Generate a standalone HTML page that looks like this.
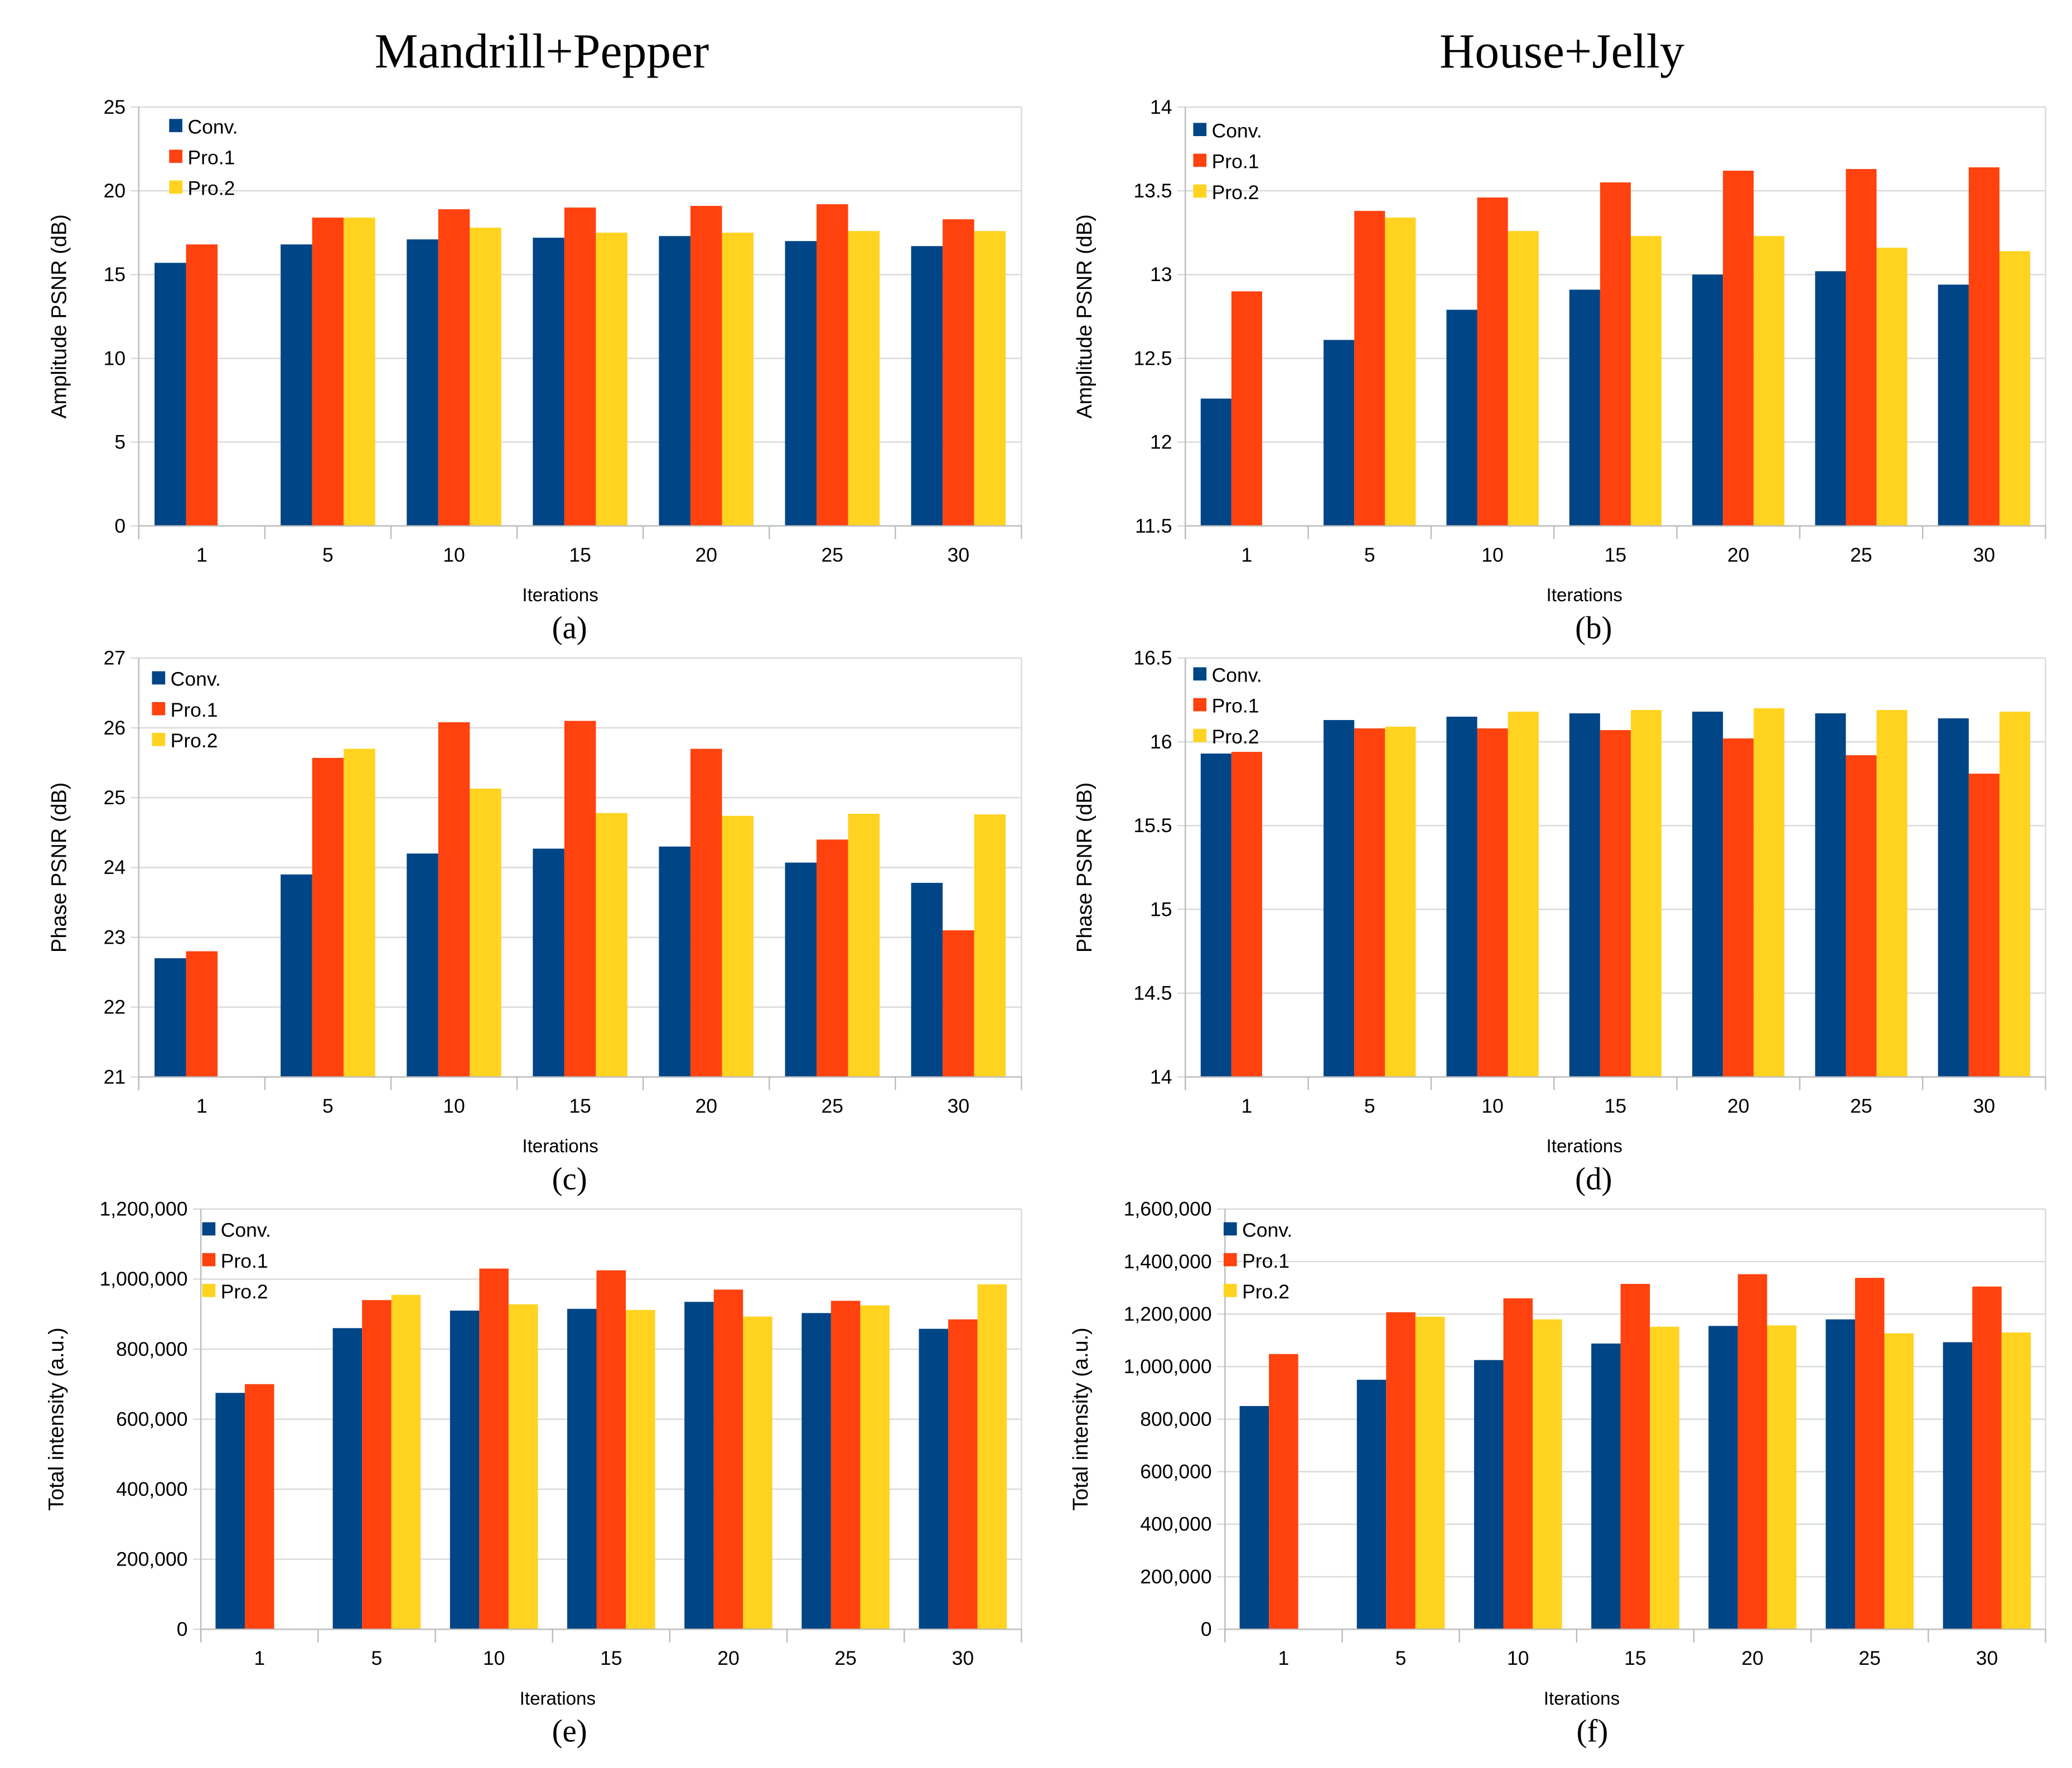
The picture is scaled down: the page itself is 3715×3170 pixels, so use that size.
<!DOCTYPE html>
<html><head><meta charset="utf-8">
<style>
html,body{margin:0;padding:0;background:#fff;}
svg{display:block;}
text{font-family:"Liberation Sans",sans-serif;fill:#000;}
.serif{font-family:"Liberation Serif",serif;}
</style></head>
<body>
<svg id="fig" width="3715" height="3170" viewBox="0 0 1568 1338" xmlns="http://www.w3.org/2000/svg">
<text class="serif" x="410" y="51" font-size="37" text-anchor="middle">Mandrill+Pepper</text>
<text class="serif" x="1182" y="51" font-size="37" text-anchor="middle">House+Jelly</text>
</svg>
<script>
const categories = ["1","5","10","15","20","25","30"];
const seriesNames = ["Conv.","Pro.1","Pro.2"];
const colors = ["#004586","#ff420e","#ffd320"];

const aConv = [15.7,16.8,17.1,17.2,17.3,17.0,16.7];
const aPro1 = [16.8,18.4,18.9,19.0,19.1,19.2,18.3];
const aPro2 = [null,18.4,17.8,17.5,17.5,17.6,17.6];
const aTicks = [0,5,10,15,20,25];

const bConv = [12.26,12.61,12.79,12.91,13.0,13.02,12.94];
const bPro1 = [12.9,13.38,13.46,13.55,13.62,13.63,13.64];
const bPro2 = [null,13.34,13.26,13.23,13.23,13.16,13.14];
const bTicks = [11.5,12,12.5,13,13.5,14];

const cConv = [22.7,23.9,24.2,24.27,24.3,24.07,23.78];
const cPro1 = [22.8,25.57,26.08,26.1,25.7,24.4,23.1];
const cPro2 = [null,25.7,25.13,24.78,24.74,24.77,24.76];
const cTicks = [21,22,23,24,25,26,27];

const dConv = [15.93,16.13,16.15,16.17,16.18,16.17,16.14];
const dPro1 = [15.94,16.08,16.08,16.07,16.02,15.92,15.81];
const dPro2 = [null,16.09,16.18,16.19,16.2,16.19,16.18];
const dTicks = [14,14.5,15,15.5,16,16.5];

const eConv = [675000,860000,910000,915000,935000,903000,858000];
const ePro1 = [700000,940000,1030000,1025000,970000,938000,885000];
const ePro2 = [null,955000,928000,912000,893000,925000,985000];
const eTicks = [0,200000,400000,600000,800000,1000000,1200000];

const fConv = [850000,950000,1025000,1088000,1155000,1180000,1093000];
const fPro1 = [1048000,1207000,1260000,1315000,1352000,1338000,1305000];
const fPro2 = [null,1190000,1180000,1152000,1157000,1127000,1130000];
const fTicks = [0,200000,400000,600000,800000,1000000,1200000,1400000,1600000];

const NS = "http://www.w3.org/2000/svg";
const svg = document.getElementById("fig");
function mk(tag, attrs, parent){
  const e = document.createElementNS(NS, tag);
  for (const k in attrs) e.setAttribute(k, attrs[k]);
  (parent||svg).appendChild(e);
  return e;
}
function fmt(v, comma){ return comma ? v.toLocaleString("en-US") : String(v); }

function panel(id, box, series, ticks, ytitle, letter, legend, comma){
  const g = mk("g", {});
  
  
  const {l, r, t, b} = box;
  const ymin = ticks[0], ymax = ticks[ticks.length-1];
  const y = v => b - (v - ymin) / (ymax - ymin) * (b - t);
  const gw = (r - l) / categories.length;
  const x = i => l + i * gw;
  ticks.forEach(tv => {
    const gl = mk("line", {x1:l-6, x2:r, y1:y(tv), y2:y(tv), stroke:"#d9d9d9", "stroke-width":1}, g);
    
    
    const tl = mk("text", {x:l-10, y:y(tv)+5, "font-size":15, "text-anchor":"end"}, g);
    tl.textContent = fmt(tv, comma);
    
    
  });
  mk("line", {x1:r, x2:r, y1:t, y2:b, stroke:"#d9d9d9"}, g);
  mk("line", {x1:l, x2:l, y1:t, y2:b+10, stroke:"#bbb"}, g);
  for (let i=0;i<=categories.length;i++) mk("line", {x1:x(i), x2:x(i), y1:b, y2:b+10, stroke:"#bbb"}, g);
  const bw = gw * 0.25;
  series.forEach((s, si) => {
    s.forEach((v, i) => {
      if (v === null) return;
      const rect = mk("rect", {x:x(i)+gw*0.125+si*bw, y:y(v), width:bw, height:b-y(v), fill:colors[si]}, g);
      
      
    });
  });
  mk("line", {x1:l, x2:r, y1:b, y2:b, stroke:"#bbb"}, g);
  categories.forEach((c, i) => {
    const tl = mk("text", {x:x(i)+gw/2, y:b+27, "font-size":15, "text-anchor":"middle"}, g);
    tl.textContent = c;
    
    
  });
  const xt = mk("text", {x:box.ix, y:b+57, "font-size":14, "text-anchor":"middle"}, g);
  xt.textContent = "Iterations";
  
  
  const ty = (t+b)/2;
  const yt = mk("text", {x:box.yx, y:ty, "font-size":16, "text-anchor":"middle", transform:`rotate(-90 ${box.yx} ${ty})`}, g);
  yt.textContent = ytitle;
  
  
  const lt = mk("text", {x:box.lx, y:b+85, "font-size":24, "text-anchor":"middle", class:"serif"}, g);
  lt.textContent = letter;
  
  
  seriesNames.forEach((n, si) => {
    const ly = legend.y + si * 23.3;
    const sw = mk("rect", {x:legend.x, y:ly-5, width:10, height:10, fill:colors[si]}, g);
    
    
    const lt2 = mk("text", {x:legend.x+14, y:ly+6, "font-size":15}, g);
    lt2.textContent = n;
    
    
  });
}

panel("a", {l:105,r:773,t:81,b:398,yx:50,lx:431,ix:424}, [aConv,aPro1,aPro2], aTicks, "Amplitude PSNR (dB)", "(a)", {x:128,y:95}, false);
panel("b", {l:897,r:1548,t:81,b:398,yx:826,lx:1206,ix:1199}, [bConv,bPro1,bPro2], bTicks, "Amplitude PSNR (dB)", "(b)", {x:903,y:98}, false);
panel("c", {l:105,r:773,t:498,b:815,yx:50,lx:431,ix:424}, [cConv,cPro1,cPro2], cTicks, "Phase PSNR (dB)", "(c)", {x:115,y:513}, false);
panel("d", {l:897,r:1548,t:498,b:815,yx:826,lx:1206,ix:1199}, [dConv,dPro1,dPro2], dTicks, "Phase PSNR (dB)", "(d)", {x:903,y:510}, false);
panel("e", {l:152,r:773,t:915,b:1233,yx:48,lx:431,ix:422}, [eConv,ePro1,ePro2], eTicks, "Total intensity (a.u.)", "(e)", {x:153,y:930}, true);
panel("f", {l:927,r:1548,t:915,b:1233,yx:823,lx:1205,ix:1197}, [fConv,fPro1,fPro2], fTicks, "Total intensity (a.u.)", "(f)", {x:926,y:930}, true);
</script>
</body></html>
